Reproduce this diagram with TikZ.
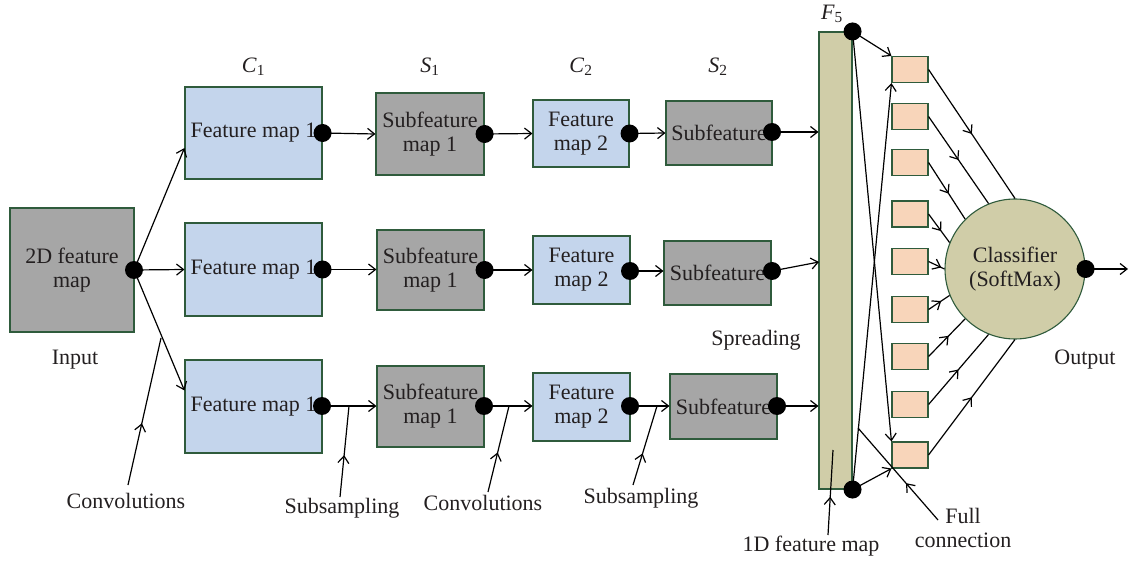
\documentclass[tikz,border=0pt]{standalone}
\usepackage{fontspec}
\setmainfont{Liberation Serif}
\usetikzlibrary{arrows.meta,decorations.markings,calc}
\definecolor{bord}{HTML}{2F5B3C}
\definecolor{bluef}{HTML}{C4D5EC}
\definecolor{grayf}{HTML}{A6A6A6}
\definecolor{olivef}{HTML}{D0CDA8}
\definecolor{peachf}{HTML}{F8D5BA}
\definecolor{txt}{HTML}{231F20}
\begin{document}
\begin{tikzpicture}[x=1pt,y=-1pt,
  font=\fontsize{22}{24}\selectfont, text=txt,
  bx/.style={draw=bord, line width=1.1pt, inner sep=0pt, align=center},
  fmap/.style={bx, fill=bluef},
  smap/.style={bx, fill=grayf},
  small/.style={bx, fill=peachf, minimum width=36pt, minimum height=26pt},
  dot/.style={circle, fill=black, inner sep=0pt, minimum size=18pt},
  tip/.tip={Straight Barb[length=7pt,width=11pt]},
  conn/.style={line width=1.2pt, draw=black, -tip},
  midarrow/.style={line width=1.2pt, draw=black, postaction={decorate},
    decoration={markings, mark=at position #1 with {\arrow{Straight Barb[length=7pt,width=11pt]}}}},
  lbl/.style={inner sep=0pt, align=center}
]
\useasboundingbox (0,0) rectangle (1130,561);

% input
\node[smap, minimum width=124pt, minimum height=124pt] (inp) at (72,270) {2D feature\\map};
% row 1
\node[fmap, minimum width=137pt, minimum height=92pt] (c1a) at (253.5,133) {Feature map 1};
\node[smap, minimum width=108pt, minimum height=82pt] (s1a) at (430,134) {Subfeature\\map 1};
\node[fmap, minimum width=96pt, minimum height=67pt] (c2a) at (581,133.5) {Feature\\map 2};
\node[smap, minimum width=106pt, minimum height=64pt] (s2a) at (719,133) {Subfeature};
% row 2
\node[fmap, minimum width=137pt, minimum height=93pt] (c1b) at (253.5,269.5) {Feature map 1};
\node[smap, minimum width=107pt, minimum height=80pt] (s1b) at (430.5,270) {Subfeature\\map 1};
\node[fmap, minimum width=97pt, minimum height=68pt] (c2b) at (581.5,270) {Feature\\map 2};
\node[smap, minimum width=107pt, minimum height=64pt] (s2b) at (717.5,273) {Subfeature};
% row 3
\node[fmap, minimum width=137pt, minimum height=93pt] (c1c) at (253.5,406.5) {Feature map 1};
\node[smap, minimum width=107pt, minimum height=81pt] (s1c) at (430.5,406.5) {Subfeature\\map 1};
\node[fmap, minimum width=97pt, minimum height=68pt] (c2c) at (581.5,407) {Feature\\map 2};
\node[smap, minimum width=107pt, minimum height=65pt] (s2c) at (723.5,406.5) {Subfeature};
% bar
\node[bx, fill=olivef, minimum width=33pt, minimum height=457pt] (bar) at (835.5,260.5) {};
% small boxes
\foreach \i/\y in {1/69.5,2/116.5,3/162.5,4/214,5/261.5,6/309.5,7/356.5,8/404.5,9/455}
  \node[small] (sb\i) at (910,\y) {};
% classifier
\node[bx, circle, fill=olivef, minimum size=140pt] (cls) at (1015,269) {Classifier\\(SoftMax)};

% layer labels
\node[lbl] (lc1) at (253.5,67) {\textit{C}\textsubscript{1}};
\node[lbl] (ls1) at (430,67) {\textit{S}\textsubscript{1}};
\node[lbl] (lc2) at (581,67) {\textit{C}\textsubscript{2}};
\node[lbl] (ls2) at (718,67) {\textit{S}\textsubscript{2}};
\node[lbl] (lf5) at (832,14) {\textit{F}\textsubscript{5}};
\node[lbl] (tin) at (75,360) {Input};
\node[lbl] (tsp) at (756,340) {Spreading};
\node[lbl] (tout) at (1085,360) {Output};
\node[lbl] (tcv1) at (126,501) {Convolutions};
\node[lbl] (tss1) at (342,508) {Subsampling};
\node[lbl] (tcv2) at (483,503) {Convolutions};
\node[lbl] (tss2) at (641,498) {Subsampling};
\node[lbl] (t1d) at (811,546) {1D feature map};
\node[lbl, align=center] (tfc) at (963,528) {Full\\connection};

% dots (positions)
\coordinate (dinp) at (134,270);
\coordinate (dc1a) at (c1a.east);
\coordinate (ds1a) at (s1a.east);
\coordinate (dc2a) at (c2a.east);
\coordinate (ds2a) at (772,132);
\coordinate (dc1b) at (c1b.east);
\coordinate (ds1b) at (s1b.east);
\coordinate (dc2b) at (630,271);
\coordinate (ds2b) at (772,271);
\coordinate (dc1c) at (322,406);
\coordinate (ds1c) at (484,406);
\coordinate (dc2c) at (630,406);
\coordinate (ds2c) at (777,406);
\coordinate (dft) at (bar.north east);
\coordinate (dfb) at (bar.south east);
\coordinate (dcl) at (cls.east);
\coordinate (outend) at (1128,269);

% input fan
\draw[conn] (dinp) -- ([yshift=-15pt]c1a.west);
\draw[conn] (dinp) -- (c1b.west);
\draw[conn] (dinp) -- ([yshift=16pt]c1c.west);
% rows
\draw[conn] (dc1a) -- (s1a.west);
\draw[conn] (ds1a) -- (c2a.west);
\draw[conn] (dc2a) -- (s2a.west);
\draw[conn] (ds2a) -- (bar.west |- ds2a);
\draw[conn] (dc1b) -- (s1b.west |- dc1b);
\draw[conn] (ds1b) -- (c2b.west |- ds1b);
\draw[conn] (dc2b) -- (s2b.west |- dc2b);
\coordinate (bar2) at (819,262);
\draw[conn] (ds2b) -- (bar2);
\draw[conn] (dc1c) -- (s1c.west |- dc1c);
\draw[conn] (ds1c) -- (c2c.west |- ds1c);
\draw[conn] (dc2c) -- (s2c.west |- dc2c);
\draw[conn] (ds2c) -- (bar.west |- ds2c);

% pointers
\coordinate (p1s) at (128,485); \coordinate (p1e) at (161,338);
\coordinate (p2s) at (340,497); \coordinate (p2e) at (349,406);
\coordinate (p3s) at (488,492); \coordinate (p3e) at (509,406);
\coordinate (p4s) at (633,485); \coordinate (p4e) at (657,406);
\coordinate (p5s) at (828,535); \coordinate (p5e) at (833,450);
\coordinate (p6s) at (938,520); \coordinate (p6e) at (858,428);
\draw[midarrow=0.42] (p1s) -- (p1e);
\draw[midarrow=0.46] (p2s) -- (p2e);
\draw[midarrow=0.46] (p3s) -- (p3e);
\draw[midarrow=0.40] (p4s) -- (p4e);
\draw[midarrow=0.45] (p5s) -- (p5e);
\draw[midarrow=0.40] (p6s) -- (p6e);

% F5 full connections
\draw[conn] (dft) -- (sb1.north west);
\draw[conn] (dft) -- (sb9.north west);
\draw[conn] (dfb) -- (sb1.south west);
\draw[conn] (dfb) -- (sb9.south west);

% boxes to classifier
\foreach \i/\a/\p in {1/90/0.5,2/112/0.5,3/135/0.55,4/158/0.6,5/180/0.8,6/202/0.6,7/225/0.55,8/248/0.5,9/270/0.5}
  \draw[midarrow=\p] (sb\i.east) -- (cls.\a);

% output
\draw[conn] (dcl) -- (outend);

% dots on top
\foreach \d in {dinp,dc1a,ds1a,dc2a,ds2a,dc1b,ds1b,dc2b,ds2b,dc1c,ds1c,dc2c,ds2c,dft,dfb,dcl}
  \node[dot] at (\d) {};
\end{tikzpicture}
\end{document}
